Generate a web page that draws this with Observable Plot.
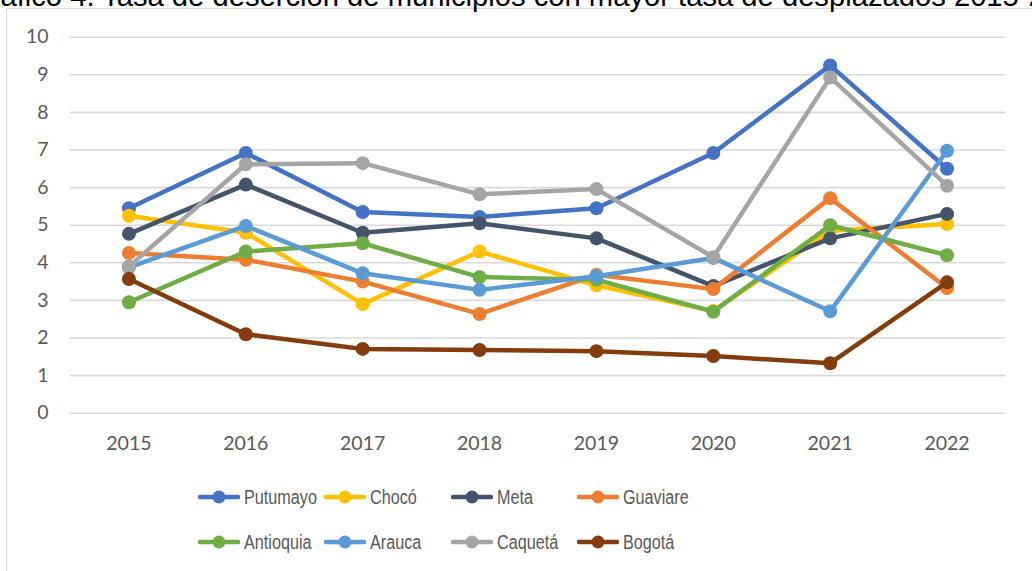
<!DOCTYPE html>
<html>
<head>
<meta charset="utf-8">
<script src="https://cdn.jsdelivr.net/npm/d3@7"></script>
<script src="https://cdn.jsdelivr.net/npm/@observablehq/plot@0.6"></script>
<style>
  html, body { margin: 0; padding: 0; background: #fff; }
  #wrap { position: relative; width: 1032px; height: 571px; overflow: hidden; background: #fff; }
  #title { position: absolute; left: -32px; top: -18px; white-space: nowrap; font: 29.2px/29.2px "Liberation Sans", Arial, sans-serif; color: #000; }
  #frame { position: absolute; left: 6px; top: 8px; width: 1100px; height: 700px; border: 1.5px solid #d9d9d9; box-sizing: border-box; }
  #chart { position: absolute; left: 0; top: 0; }
  .leg { position: absolute; display: flex; align-items: center; height: 20px; font: 20px "Liberation Sans", Arial, sans-serif; color: #595959; white-space: nowrap; }
  .leg svg { margin-right: 4px; }
  .leg span { display: inline-block; transform: scaleX(0.81); transform-origin: left center; }
</style>
</head>
<body>
<div id="wrap">
  <div id="frame"></div>
  <div id="title">Gráfico 4. Tasa de deserción de municipios con mayor tasa de desplazados 2015-2022</div>
  <div id="chart"></div>
</div>
<script>
const years = [2015, 2016, 2017, 2018, 2019, 2020, 2021, 2022];
const seriesNames = ["Putumayo", "Chocó", "Meta", "Guaviare", "Antioquia", "Arauca", "Caquetá", "Bogotá"];
const seriesColors = ["#4472C4", "#FFC000", "#44546A", "#ED7D31", "#70AD47", "#5B9BD5", "#A5A5A5", "#843C0C"];
const putumayo  = [5.45, 6.92, 5.35, 5.22, 5.45, 6.92, 9.25, 6.50];
const choco     = [5.25, 4.80, 2.90, 4.30, 3.40, 2.72, 4.85, 5.03];
const meta      = [4.77, 6.08, 4.80, 5.05, 4.65, 3.38, 4.65, 5.30];
const guaviare  = [4.26, 4.08, 3.50, 2.64, 3.68, 3.30, 5.72, 3.33];
const antioquia = [2.95, 4.30, 4.52, 3.62, 3.55, 2.70, 5.00, 4.20];
const arauca    = [3.88, 4.98, 3.72, 3.28, 3.64, 4.13, 2.71, 6.98];
const caqueta   = [3.90, 6.62, 6.65, 5.82, 5.96, 4.15, 8.93, 6.05];
const bogota    = [3.57, 2.10, 1.71, 1.68, 1.65, 1.52, 1.33, 3.48];
const yTicks = [0, 1, 2, 3, 4, 5, 6, 7, 8, 9, 10];

const seriesValues = [putumayo, choco, meta, guaviare, antioquia, arauca, caqueta, bogota];
const rows = seriesNames.map((name, i) => years.map((yr, j) => ({name, year: yr, value: seriesValues[i][j]})));

const marks = [
  Plot.ruleY(yTicks, {stroke: "#d9d9d9", strokeWidth: 1.6}),
  Plot.axisY(yTicks, {tickSize: 0, tickPadding: 22, fontSize: 19.5, fontFamily: "Lato"}),
  Plot.axisX(years, {tickSize: 0, tickPadding: 23, fontSize: 19.5, fontFamily: "Lato", tickFormat: d => String(d)})
];
rows.forEach((data, i) => {
  marks.push(Plot.line(data, {x: "year", y: "value", stroke: seriesColors[i], strokeWidth: 4.5, strokeLinejoin: "round", strokeLinecap: "round"}));
  marks.push(Plot.dot(data, {x: "year", y: "value", r: 7, fill: seriesColors[i], stroke: "none"}));
});

const chart = Plot.plot({
  width: 1032,
  height: 470,
  marginLeft: 70,
  marginRight: 27,
  marginTop: 36.7,
  marginBottom: 57.3,
  style: {background: "transparent", color: "#595959", fontFamily: "Lato"},
  x: {type: "linear", domain: [2014.5, 2022.5], label: null},
  y: {domain: [0, 10], label: null},
  marks
});
document.getElementById("chart").appendChild(chart);

// Legend
const wrap = document.getElementById("wrap");
seriesNames.forEach((name, i) => {
  const col = i % 4, row = Math.floor(i / 4);
  const div = document.createElement("div");
  div.className = "leg";
  div.style.left = (198 + col * 126.3) + "px";
  div.style.top = (row === 0 ? 487 : 532) + "px";
  div.innerHTML = `<svg width="42" height="16"><line x1="2" y1="8" x2="40" y2="8" stroke="${seriesColors[i]}" stroke-width="4.5" stroke-linecap="round"/><circle cx="21" cy="8" r="6.5" fill="${seriesColors[i]}"/></svg><span>${name}</span>`;
  wrap.appendChild(div);
});
</script>
</body>
</html>
